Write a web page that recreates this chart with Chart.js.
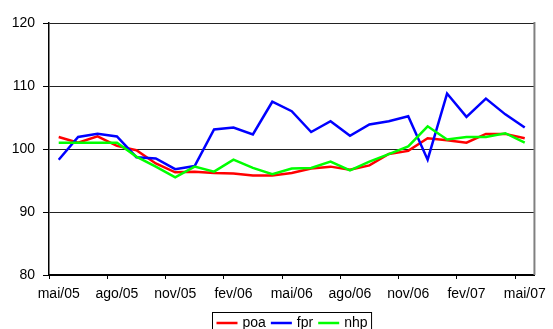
<!doctype html>
<html lang="pt">
  <head>
    <meta charset="utf-8">
    <title>poa fpr nhp</title>
    <script src="https://cdn.jsdelivr.net/npm/chart.js"></script>
    <style>
      html, body { margin: 0; padding: 0; background: #fff; }
      #wrap { width: 553px; height: 329px; }
    </style>
  </head>
  <body>
    <div id="wrap"><canvas id="indexChart" width="553" height="329"></canvas></div>

    <script>
    // months, mai/05 .. mai/07
    const months = ['mai/05', 'jun/05', 'jul/05', 'ago/05', 'set/05', 'out/05', 'nov/05', 'dez/05',
      'jan/06', 'fev/06', 'mar/06', 'abr/06', 'mai/06', 'jun/06', 'jul/06', 'ago/06', 'set/06',
      'out/06', 'nov/06', 'dez/06', 'jan/07', 'fev/07', 'mar/07', 'abr/07', 'mai/07'];

    const poa = [101.9, 101.0, 102.0, 100.5, 99.8, 97.7, 96.3, 96.4, 96.2, 96.1, 95.8, 95.8, 96.2,
      96.9, 97.2, 96.7, 97.4, 99.2, 99.7, 101.7, 101.4, 101.0, 102.4, 102.4, 101.7];
    const fpr = [98.3, 101.9, 102.4, 102.0, 98.7, 98.5, 96.8, 97.3, 103.1, 103.4, 102.3, 107.5, 106.0,
      102.7, 104.4, 102.1, 103.9, 104.4, 105.2, 98.3, 108.8, 105.1, 108.0, 105.5, 103.4];
    const nhp = [101.0, 101.0, 101.0, 101.0, 98.8, 97.2, 95.5, 97.2, 96.4, 98.3, 97.0, 96.0, 96.9,
      97.0, 98.0, 96.6, 98.0, 99.2, 100.4, 103.6, 101.5, 101.9, 101.9, 102.5, 101.0];

    const yMin = 80, yMax = 120, yStep = 10;
    const FONT = 'Liberation Sans';

    // gray right edge of the plot area + boxed legend under the axis
    const frameAndLegend = {
      id: 'frameAndLegend',
      afterDraw(chart) {
        const ctx = chart.ctx;
        const a = chart.chartArea;
        ctx.save();
        ctx.strokeStyle = '#808080';
        ctx.lineWidth = 2;
        ctx.beginPath();
        ctx.moveTo(a.right, a.top - 1);
        ctx.lineTo(a.right, a.bottom);
        ctx.stroke();

        ctx.font = '14px ' + FONT;
        const lineLen = 21, gap = 5, pad = 4;
        const items = chart.data.datasets.map(ds => ({ text: ds.label, color: ds.borderColor, w: ctx.measureText(ds.label).width }));
        let total = pad * 2;
        items.forEach((it, i) => { total += lineLen + gap + it.w + (i < items.length - 1 ? gap : 0); });
        const left = Math.round((a.left + a.right) / 2 - total / 2) + 0.5;
        const top = 312.5;
        const cy = 323;

        ctx.strokeStyle = '#000';
        ctx.lineWidth = 1;
        ctx.strokeRect(left, top, total, 30);

        let x = left + pad;
        ctx.textBaseline = 'middle';
        ctx.textAlign = 'left';
        items.forEach(it => {
          ctx.strokeStyle = it.color;
          ctx.lineWidth = 2.5;
          ctx.beginPath();
          ctx.moveTo(x, cy);
          ctx.lineTo(x + lineLen, cy);
          ctx.stroke();
          x += lineLen + gap;
          ctx.fillStyle = '#000';
          ctx.fillText(it.text, x, cy);
          x += it.w + gap;
        });
        ctx.restore();
      }
    };

    function makeSeries(label, data, color, order) {
      return {
        label: label,
        data: data,
        borderColor: color,
        backgroundColor: color,
        borderWidth: 2.5,
        pointRadius: 0,
        tension: 0,
        fill: false,
        order: order
      };
    }

    const ctx = document.getElementById('indexChart').getContext('2d');
    const chart = new Chart(ctx, {
      type: 'line',
      data: {
        labels: months,
        datasets: [
          makeSeries('poa', poa, '#ff0000', 2),
          makeSeries('fpr', fpr, '#0000ff', 1),
          makeSeries('nhp', nhp, '#00ff00', 0)
        ]
      },
      options: {
        responsive: false,
        animation: false,
        layout: { padding: { top: 23, right: 13, left: 0, bottom: 24 } },
        plugins: {
          legend: { display: false },
          tooltip: { enabled: false }
        },
        scales: {
          x: {
            offset: true,
            afterFit: s => { s.height = 30; },
            grid: {
              offset: true,
              drawOnChartArea: false,
              tickLength: 4,
              tickWidth: 1,
              color: c => (c.index % 3 === 0 ? '#000' : 'rgba(0,0,0,0)')
            },
            border: { color: '#000', width: 2 },
            ticks: {
              autoSkip: false,
              maxRotation: 0,
              padding: 7,
              color: '#000',
              font: { family: FONT, size: 14 },
              callback: (v, i) => (i % 3 === 0 ? months[i] : '')
            }
          },
          y: {
            min: yMin,
            max: yMax,
            afterFit: s => { s.width = 49; },
            grid: {
              color: '#222',
              lineWidth: 1,
              tickLength: 6,
              tickColor: '#000'
            },
            border: { color: '#000', width: 1.5 },
            ticks: {
              stepSize: yStep,
              padding: 8,
              color: '#000',
              font: { family: FONT, size: 14 }
            }
          }
        }
      },
      plugins: [frameAndLegend]
    });
    </script>
  </body>
</html>
